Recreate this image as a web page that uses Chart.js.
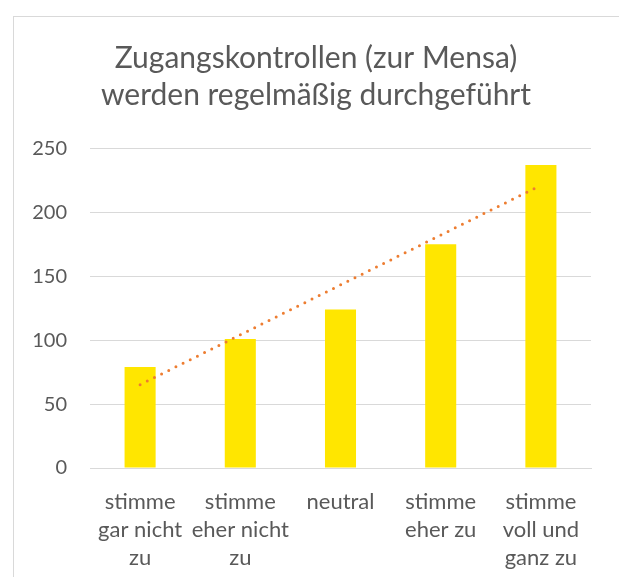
<!DOCTYPE html>
<html>
<head>
<meta charset="utf-8">
<script src="https://cdn.jsdelivr.net/npm/chart.js@4/dist/chart.umd.min.js"></script>
<style>
  html, body { margin: 0; padding: 0; background: #ffffff; overflow: hidden; }
  #wrap { position: relative; width: 619px; height: 577px; overflow: hidden; }
  #frame { position: absolute; left: 13px; top: 16px; width: 800px; height: 800px; border: 1px solid #d9d9d9; box-sizing: border-box; }
  canvas { position: absolute; left: 0; top: 0; }
</style>
</head>
<body>
<div id="wrap">
  <div id="frame"></div>
  <canvas id="c" width="619" height="577"></canvas>
</div>
<script>
const titleLines = ['Zugangskontrollen (zur Mensa)', 'werden regelmäßig durchgeführt'];
const categories = [
  ['stimme', 'gar nicht', 'zu'],
  ['stimme', 'eher nicht', 'zu'],
  ['neutral'],
  ['stimme', 'eher zu'],
  ['stimme', 'voll und', 'ganz zu']
];
const counts = [79, 101, 124, 175, 237];
const yTicks = [0, 50, 100, 150, 200, 250];

// linear trendline (least squares) computed from the counts, as the spreadsheet does
function linearTrend(vals) {
  const n = vals.length;
  let sx = 0, sy = 0, sxy = 0, sxx = 0;
  vals.forEach((v, i) => { const x = i + 1; sx += x; sy += v; sxy += x * v; sxx += x * x; });
  const slope = (n * sxy - sx * sy) / (n * sxx - sx * sx);
  const icpt = (sy - slope * sx) / n;
  return vals.map((v, i) => icpt + slope * (i + 1));
}
const trend = linearTrend(counts);

const grey = '#595959';
const fontFam = 'Lato, "Open Sans", sans-serif';

new Chart(document.getElementById('c'), {
  type: 'bar',
  data: {
    labels: categories,
    datasets: [
      {
        type: 'line',
        data: trend,
        borderColor: '#ED7D31',
        borderWidth: 3,
        borderDash: [0, 8],
        borderCapStyle: 'round',
        pointRadius: 0,
        fill: false,
        tension: 0,
        order: 0
      },
      {
        data: counts,
        backgroundColor: '#FFE600',
        borderWidth: 0,
        barPercentage: 0.62,
        categoryPercentage: 0.5,
        order: 1
      }
    ]
  },
  options: {
    responsive: false,
    devicePixelRatio: 1,
    animation: false,
    layout: { padding: { left: 32, right: 19, top: 40, bottom: 6 } },
    plugins: {
      legend: { display: false },
      tooltip: { enabled: false },
      title: {
        display: true,
        text: titleLines,
        color: grey,
        font: { family: fontFam, size: 30, weight: 'normal', lineHeight: 1.24 },
        padding: { top: 0, bottom: 34 }
      }
    },
    scales: {
      x: {
        grid: { display: false, drawTicks: false },
        border: { display: true, color: '#d9d9d9', width: 1 },
        afterFit: (axis) => { axis.height = 103; axis.paddingLeft = 0; axis.paddingRight = 0; },
        ticks: {
          color: grey,
          font: { family: fontFam, size: 22, lineHeight: 1.27 },
          padding: 20,
          maxRotation: 0,
          autoSkip: false
        }
      },
      y: {
        min: 0,
        max: 250,
        afterBuildTicks: (axis) => { axis.ticks = yTicks.map(v => ({ value: v })); },
        afterFit: (axis) => { axis.width = 58; },
        grid: { color: '#d9d9d9', lineWidth: 1, drawTicks: false },
        border: { display: false },
        ticks: {
          color: grey,
          font: { family: fontFam, size: 20 },
          padding: 23
        }
      },
      spacer: {
        type: 'linear',
        position: 'right',
        display: true,
        afterFit: (axis) => { axis.width = 9; },
        grid: { display: false, drawTicks: false },
        border: { display: false },
        ticks: { display: false }
      }
    }
  }
});
</script>
</body>
</html>
